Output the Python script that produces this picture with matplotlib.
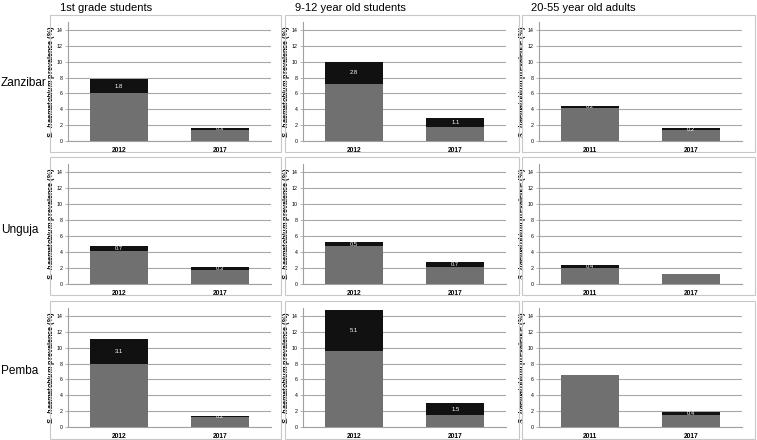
import numpy as np
import matplotlib.pyplot as plt
from matplotlib.patches import Rectangle

plt.rcParams['font.family'] = ['Liberation Sans', 'DejaVu Sans']
plt.rcParams['mathtext.fontset'] = 'custom'
plt.rcParams['mathtext.bfit'] = 'Liberation Sans:italic:bold'

# column and row headings
groups = ['1st grade students', '9-12 year old students', '20-55 year old adults']
regions = ['Zanzibar', 'Unguja', 'Pemba']
years = [['2012', '2017'], ['2012', '2017'], ['2011', '2017']]

# heavy-intensity part on top (black), light-intensity part below (grey)
# order: rows = regions, cols = groups, each pair = (first year, 2017)
light = [
    [[6.0, 1.4], [7.2, 1.8], [4.2, 1.4]],
    [[4.1, 1.8], [4.7, 2.1], [2.0, 1.2]],
    [[8.0, 1.2], [9.6, 1.5], [6.6, 1.5]],
]
heavy = [
    [[1.8, 0.3], [2.8, 1.1], [0.2, 0.2]],
    [[0.7, 0.3], [0.5, 0.7], [0.4, 0.0]],
    [[3.1, 0.2], [5.1, 1.5], [0.0, 0.4]],
]

W, H = 757, 440
fig = plt.figure(figsize=(W / 100, H / 100), dpi=100)

def frac(l, t, r, b):
    return [l / W, 1 - b / H, (r - l) / W, (b - t) / H]

col_ax = [(68, 271), (303, 506), (539, 742)]
row_ax = [(22, 141), (164, 284), (308, 427)]
col_box = [(50, 281), (285, 519), (522, 755)]
row_box = [(15, 152), (157, 295), (301, 439)]

ylab = r'$\mathbfit{S.\ haematobium}$ prevalence (%)'

for i in range(3):
    for j in range(3):
        bl, br = col_box[j]
        bt, bb = row_box[i]
        fig.patches.append(Rectangle((bl / W, 1 - bb / H), (br - bl) / W, (bb - bt) / H,
                                     transform=fig.transFigure, fill=False,
                                     edgecolor='#c8c8c8', lw=0.8))
        l, r = col_ax[j]
        t, b = row_ax[i]
        ax = fig.add_axes(frac(l, t, r, b))
        x = np.arange(2)
        lo = np.array(light[i][j])
        hi = np.array(heavy[i][j])
        ax.bar(x, lo, width=0.57, color='#707070', zorder=3)
        ax.bar(x, hi, width=0.57, bottom=lo, color='#111111', zorder=3)
        for k in range(2):
            if hi[k] > 0:
                ax.text(x[k], lo[k] + hi[k] / 2, f'{hi[k]:.1f}', color='white',
                        ha='center', va='center', fontsize=4.2, zorder=4)
        ax.set_xlim(-0.5, 1.5)
        ax.set_ylim(0, 15)
        ax.set_yticks(range(0, 15, 2))
        ax.set_xticks(x)
        ax.set_xticklabels(years[j], fontweight='bold', fontsize=4.8)
        ax.tick_params(axis='y', labelsize=3.8, length=2, width=0.5, color='#999999', pad=2)
        ax.tick_params(axis='x', length=0, pad=4)
        ax.yaxis.grid(True, color='#a8a8a8', lw=0.8, zorder=0)
        for s in ['top', 'right']:
            ax.spines[s].set_visible(False)
        for s in ['left', 'bottom']:
            ax.spines[s].set_color('#a0a0a0')
            ax.spines[s].set_linewidth(0.8)
        ax.set_ylabel(ylab, fontsize=5.2, fontweight='bold')
        ax.yaxis.set_label_coords(-0.055, 0.5)

for j in range(3):
    fig.text((col_ax[j][0] - 8) / W, 1 - 8 / H, groups[j], fontsize=8,
             ha='left', va='center')

row_y = [83, 230, 371]
for i in range(3):
    fig.text(1 / W, 1 - row_y[i] / H, regions[i], fontsize=8.5, ha='left', va='center')

fig.savefig('out.png', dpi=100)
